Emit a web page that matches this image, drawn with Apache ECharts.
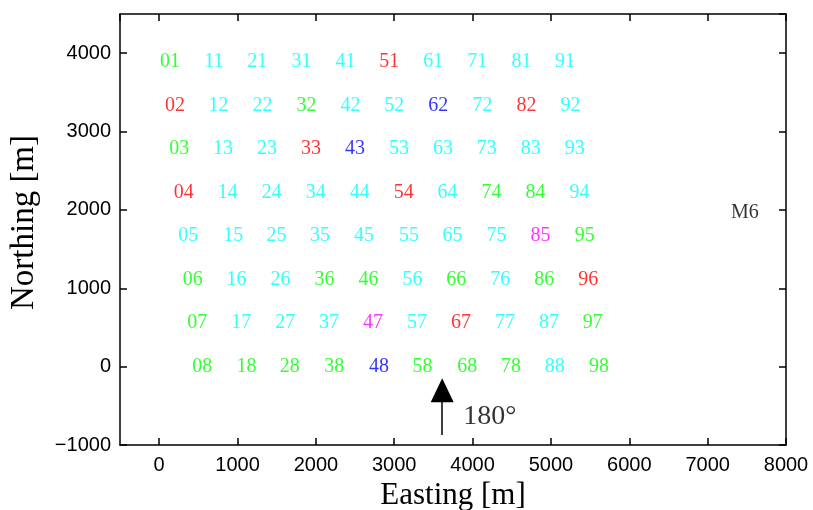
<!DOCTYPE html>
<html>
<head>
<meta charset="utf-8">
<script src="https://cdn.jsdelivr.net/npm/echarts@6/dist/echarts.min.js"></script>
<style>
html, body { margin: 0; padding: 0; background: #fff; }
#chart { width: 813px; height: 510px; }
</style>
</head>
<body>
<div id="chart"></div>
<script>
// station grid, one array per row (north to south)
var rowNorthing = [3890, 3335, 2780, 2225, 1670, 1115, 555, 0];
var rowEasting = [
    [137, 698, 1251, 1817, 2378, 2935, 3497, 4058, 4625, 5178],
    [202, 757, 1320, 1881, 2443, 2999, 3561, 4128, 4689, 5251],
    [255, 816, 1377, 1938, 2499, 3060, 3621, 4182, 4743, 5304],
    [315, 876, 1437, 1998, 2559, 3120, 3681, 4242, 4803, 5364],
    [372, 944, 1498, 2051, 2613, 3187, 3745, 4306, 4868, 5433],
    [427, 988, 1549, 2110, 2671, 3232, 3793, 4354, 4915, 5476],
    [486, 1047, 1608, 2169, 2730, 3291, 3852, 4413, 4974, 5535],
    [549, 1115, 1668, 2234, 2804, 3362, 3931, 4489, 5050, 5612]
];
var rowStations = [
    ['01', '11', '21', '31', '41', '51', '61', '71', '81', '91'],
    ['02', '12', '22', '32', '42', '52', '62', '72', '82', '92'],
    ['03', '13', '23', '33', '43', '53', '63', '73', '83', '93'],
    ['04', '14', '24', '34', '44', '54', '64', '74', '84', '94'],
    ['05', '15', '25', '35', '45', '55', '65', '75', '85', '95'],
    ['06', '16', '26', '36', '46', '56', '66', '76', '86', '96'],
    ['07', '17', '27', '37', '47', '57', '67', '77', '87', '97'],
    ['08', '18', '28', '38', '48', '58', '68', '78', '88', '98']
];
// class of each station (g / c / r / b / m)
var rowClass = [
    ['g', 'c', 'c', 'c', 'c', 'r', 'c', 'c', 'c', 'c'],
    ['r', 'c', 'c', 'g', 'c', 'c', 'b', 'c', 'r', 'c'],
    ['g', 'c', 'c', 'r', 'b', 'c', 'c', 'c', 'c', 'c'],
    ['r', 'c', 'c', 'c', 'c', 'r', 'c', 'g', 'g', 'c'],
    ['c', 'c', 'c', 'c', 'c', 'c', 'c', 'c', 'm', 'g'],
    ['g', 'c', 'c', 'g', 'g', 'c', 'g', 'c', 'g', 'r'],
    ['g', 'c', 'c', 'c', 'm', 'c', 'r', 'c', 'c', 'g'],
    ['g', 'g', 'g', 'g', 'b', 'g', 'g', 'g', 'c', 'g']
];
var otherNames = ['M6'];
var otherEasting = [7475];
var otherNorthing = [1958];
var arrowEasting = [3612, 3612];
var arrowNorthing = [-872, -300];
var arrowText = ['180°'];
var arrowTextPos = [4221, -642];

var classColors = { g: '#00ff00', c: '#00ffff', r: '#ff0000', b: '#0000ff', m: '#ff00ff' };
var serif = 'Liberation Serif';
var sans = 'Liberation Sans';

var stationData = [];
for (var r = 0; r < rowStations.length; r++) {
    for (var c = 0; c < rowStations[r].length; c++) {
        stationData.push({
            name: rowStations[r][c],
            value: [rowEasting[r][c], rowNorthing[r]],
            label: { color: classColors[rowClass[r][c]] }
        });
    }
}
var otherData = [];
for (var i = 0; i < otherNames.length; i++) {
    otherData.push({ name: otherNames[i], value: [otherEasting[i], otherNorthing[i]] });
}

function minus(v) { return String(v).replace('-', '\u2212'); }

var axisLine = { onZero: false, lineStyle: { color: '#000', width: 1.5 } };
var axisTick = { inside: true, length: 7, lineStyle: { color: '#000', width: 1.5 } };

var option = {
    animation: false,
    backgroundColor: '#fff',
    grid: { left: 120, right: 27, top: 14, bottom: 65, outerBoundsMode: 'none' },
    xAxis: [{
        type: 'value', min: -500, max: 8000, splitNumber: 8, position: 'bottom',
        axisLine: axisLine, axisTick: axisTick, splitLine: { show: false },
        axisLabel: { showMinLabel: false, margin: 10, fontFamily: sans, fontSize: 20, color: '#000', formatter: minus },
        name: 'Easting [m]', nameLocation: 'middle', nameGap: 31,
        nameTextStyle: { fontFamily: serif, fontSize: 31, color: '#000' }
    }, {
        type: 'value', min: -500, max: 8000, splitNumber: 8, position: 'top',
        axisLine: axisLine, axisTick: axisTick, splitLine: { show: false },
        axisLabel: { show: false }
    }],
    yAxis: [{
        type: 'value', min: -1000, max: 4500, interval: 1000, position: 'left',
        axisLine: axisLine, axisTick: axisTick, splitLine: { show: false },
        axisLabel: { showMaxLabel: false, margin: 9, fontFamily: sans, fontSize: 20, color: '#000', formatter: minus },
        name: 'Northing [m]', nameLocation: 'middle', nameGap: 79, nameRotate: 90,
        nameTextStyle: { fontFamily: serif, fontSize: 33, color: '#000', padding: [0, 0, 0, 14] }
    }, {
        type: 'value', min: -1000, max: 4500, interval: 1000, position: 'right',
        axisLine: axisLine, axisTick: axisTick, splitLine: { show: false },
        axisLabel: { show: false }
    }],
    series: [{
        type: 'scatter',
        symbolSize: 0,
        data: stationData,
        label: { show: true, position: 'inside', formatter: '{b}', fontFamily: serif, fontSize: 20 },
        markLine: {
            silent: true,
            symbol: ['none', 'triangle'],
            symbolSize: [23, 24],
            label: { show: false },
            lineStyle: { color: '#000', width: 1.5, type: 'solid' },
            itemStyle: { color: '#000' },
            data: [[
                { coord: [arrowEasting[0], arrowNorthing[0]] },
                { coord: [arrowEasting[1], arrowNorthing[1]] }
            ]]
        }
    }, {
        type: 'scatter',
        symbolSize: 0,
        data: otherData,
        label: { show: true, position: 'inside', formatter: '{b}', fontFamily: serif, fontSize: 20, color: '#000' }
    }, {
        type: 'scatter',
        symbolSize: 0,
        data: [{ name: arrowText[0], value: arrowTextPos }],
        label: { show: true, position: 'inside', formatter: '{b}', fontFamily: serif, fontSize: 28, color: '#000' }
    }]
};

var myChart = echarts.init(document.getElementById('chart'));
myChart.setOption(option);
</script>
</body>
</html>
